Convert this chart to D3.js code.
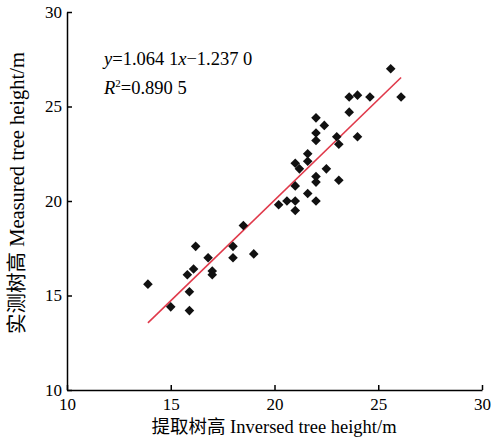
<!DOCTYPE html>
<html>
<head>
<meta charset="utf-8">
<script src="https://cdn.jsdelivr.net/npm/d3@7"></script>
<style>
  body { margin: 0; background: #fff; }
  svg text { font-family: "Liberation Serif", "Noto Sans CJK SC", serif; fill: #000; }
</style>
</head>
<body>
<svg id="chart" width="492" height="444"></svg>
<script>
// inversed (extracted) tree height, m
const inversed = [13.9, 15.0, 15.9, 15.9, 15.8, 16.1, 16.2, 16.8, 17.0, 17.0,
  18.0, 18.0, 18.5, 19.0, 20.2, 20.6, 21.0, 21.0, 21.0, 21.6,
  22.0, 22.0, 22.0, 22.5, 23.1, 21.0, 21.2, 21.6, 21.6, 22.0,
  22.0, 22.4, 22.0, 23.0, 23.1, 23.6, 23.6, 24.0, 24.6, 24.0,
  25.6, 26.1];
// measured tree height, m
const measured = [15.6, 14.4, 14.2, 15.2, 16.1, 16.4, 17.6, 17.0, 16.3, 16.1,
  17.6, 17.0, 18.7, 17.2, 19.8, 20.0, 20.0, 19.5, 20.8, 20.4,
  20.0, 21.0, 21.3, 21.7, 21.1, 22.0, 21.7, 22.1, 22.5, 23.2,
  23.6, 24.0, 24.4, 23.4, 23.0, 24.7, 25.5, 25.6, 25.5, 23.4,
  27.0, 25.5];
const xTicks = [10, 15, 20, 25, 30];
const yTicks = [10, 15, 20, 25, 30];
const slope = 1.0641, intercept = -1.237;

const points = inversed.map((d, i) => ({x: d, y: measured[i]}));

const svg = d3.select("#chart");
const x = d3.scaleLinear().domain([10, 30]).range([67, 482]);
const y = d3.scaleLinear().domain([10, 30]).range([390, 12]);

// axes, ticks pointing inward
const xAxis = svg.append("g")
  .attr("transform", "translate(0,390)")
  .call(d3.axisBottom(x).tickValues(xTicks).tickSize(-5).tickPadding(9).tickSizeOuter(0));
const yAxis = svg.append("g")
  .attr("transform", "translate(67,0)")
  .call(d3.axisLeft(y).tickValues(yTicks).tickSize(-5).tickPadding(5).tickSizeOuter(0));

[xAxis, yAxis].forEach(g => {
  g.select(".domain").attr("stroke", "#000").attr("stroke-width", 1.5);
  g.selectAll(".tick line").attr("stroke", "#000").attr("stroke-width", 1.5);
  g.selectAll(".tick text").style("font-size", "17px").attr("fill", "#000");
});
xAxis.selectAll(".tick text").attr("dy", "0.66em");

// regression line over the data range
const xr = d3.extent(inversed);
svg.append("line")
  .attr("x1", x(xr[0])).attr("y1", y(slope * xr[0] + intercept))
  .attr("x2", x(xr[1])).attr("y2", y(slope * xr[1] + intercept))
  .attr("stroke", "#e0394a").attr("stroke-width", 1.6);

// points
svg.selectAll(".pt")
  .data(points)
  .enter().append("path")
  .attr("class", "pt")
  .attr("d", d3.symbol().type(d3.symbolSquare).size(46))
  .attr("transform", d => `translate(${x(d.x)},${y(d.y)}) rotate(45)`)
  .attr("fill", "#111");

// equation
const eq = svg.append("text").attr("x", 104).attr("y", 65).style("font-size", "18.5px");
eq.append("tspan").style("font-style", "italic").text("y");
eq.append("tspan").text("=1.064 1");
eq.append("tspan").style("font-style", "italic").text("x");
eq.append("tspan").text("\u22121.237 0");

const r2 = svg.append("text").attr("x", 104).attr("y", 94).style("font-size", "18.5px");
r2.append("tspan").style("font-style", "italic").text("R");
r2.append("tspan").attr("dy", -7).style("font-size", "11px").text("2");
r2.append("tspan").attr("dy", 7).text("=0.890 5");

// axis titles
svg.append("text")
  .attr("x", 274).attr("y", 433)
  .attr("text-anchor", "middle")
  .style("font-size", "18.5px")
  .text("提取树高 Inversed tree height/m");

svg.append("text")
  .attr("transform", "translate(17,193) rotate(-90)")
  .attr("text-anchor", "middle")
  .attr("dominant-baseline", "central")
  .style("font-size", "20.5px")
  .text("实测树高 Measured tree height/m");
</script>
</body>
</html>
